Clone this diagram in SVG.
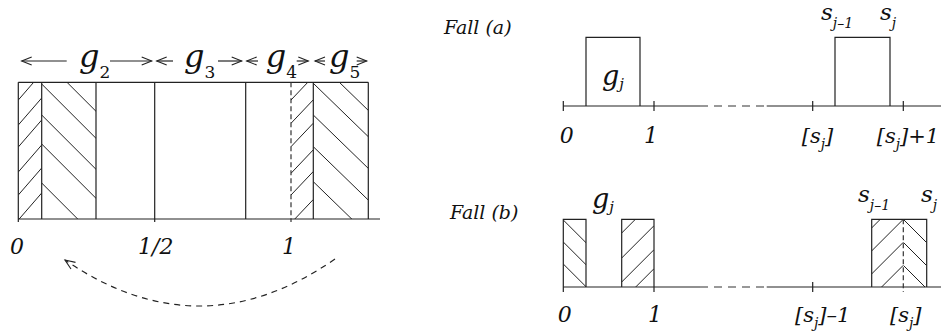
<svg xmlns="http://www.w3.org/2000/svg" width="941" height="333" viewBox="0 0 941 333">
<style>
  .ln{stroke:#222;stroke-width:1.2;fill:none}
  .ht{stroke:#222;stroke-width:1;fill:none}
  .dsh{stroke:#333;stroke-width:1.2;fill:none;stroke-dasharray:5 3}
  .axd{stroke:#333;stroke-width:1.2;fill:none;stroke-dasharray:8 6}
  text{font-family:'DejaVu Serif','Liberation Serif',serif;font-style:italic;fill:#111}
  .r{font-style:normal}
</style>
<defs>
  <marker id="open" markerWidth="12" markerHeight="10" refX="10" refY="4" orient="auto-start-reverse" markerUnits="userSpaceOnUse" overflow="visible">
    <path d="M0,0 L10,4 L0,8" fill="none" stroke="#222" stroke-width="1.1"/>
  </marker>
  <clipPath id="cA"><rect x="18.3" y="82.3" width="23.4" height="136.7"/></clipPath>
  <clipPath id="cB"><rect x="41.7" y="82.3" width="54.3" height="136.7"/></clipPath>
  <clipPath id="cC"><rect x="291" y="82.3" width="22.3" height="136.7"/></clipPath>
  <clipPath id="cD"><rect x="313.3" y="82.3" width="55" height="136.7"/></clipPath>
  <clipPath id="cb1"><rect x="563.3" y="219.3" width="22.7" height="67.7"/></clipPath>
  <clipPath id="cb2"><rect x="621.7" y="219.3" width="32.3" height="67.7"/></clipPath>
  <clipPath id="cb3l"><rect x="871.7" y="219.3" width="31.6" height="67.7"/></clipPath>
  <clipPath id="cb3r"><rect x="903.3" y="219.3" width="23.4" height="67.7"/></clipPath>
</defs>

<!-- Left figure -->
<g id="left-interval">
  <path class="ln" d="M18.3,82.3H368.3 M18.3,82.3V222 M18.3,219H380 M41.7,82.3V219 M96,82.3V219 M154.7,82.3V222 M245.7,82.3V219 M313.3,82.3V219 M368.3,82.3V219"/>
  <path class="dsh" d="M291,82.3V222"/>
  <path class="ht" clip-path="url(#cA)" d="M18.3,100L41.7,73 M18.3,125L41.7,98 M18.3,147L41.7,120 M18.3,172L41.7,145 M18.3,195L41.7,168 M18.3,220L41.7,193"/>
  <path class="ht" clip-path="url(#cB)" d="M41.7,57L96,111.3 M41.7,84L96,138.3 M41.7,115L96,169.3 M41.7,144L96,198.3 M41.7,183L96,237.3"/>
  <path class="ht" clip-path="url(#cC)" d="M291,100L313.3,76.5 M291,123.3L313.3,99.8 M291,146.7L313.3,123.2 M291,173.3L313.3,149.8 M291,195L313.3,171.5 M291,223L313.3,199.5"/>
  <path class="ht" clip-path="url(#cD)" d="M313.3,57L368.3,110.4 M313.3,83.3L368.3,136.7 M313.3,115L368.3,168.4 M313.3,146.7L368.3,200.1 M313.3,181.7L368.3,235.1"/>
</g>
<g id="left-labels">
  <text font-size="32" x="79" y="67">g<tspan class="r" font-size="17" dy="11">2</tspan></text>
  <text font-size="32" x="184" y="67">g<tspan class="r" font-size="17" dy="11">3</tspan></text>
  <text font-size="32" x="265.7" y="67">g<tspan class="r" font-size="17" dy="11">4</tspan></text>
  <text font-size="32" x="329" y="67">g<tspan class="r" font-size="17" dy="11">5</tspan></text>
  <text font-size="22" x="17" y="254" text-anchor="middle">0</text>
  <text font-size="22" x="155.8" y="254" text-anchor="middle">1/2</text>
  <text font-size="22" x="289" y="254" text-anchor="middle">1</text>
</g>

<!-- Fall (a) -->
<g id="fall-a">
  <text font-size="19" x="444" y="34">Fall (a)</text>
  <path class="ln" d="M563.3,106H700 M766.7,106H941 M563.3,101V111 M654,101V111 M812.7,101V111 M903.3,101V111"/>
  <path class="axd" d="M700,106H766.7"/>
  <path class="ln" d="M586,106V37.3H640V106 M835,106V37.3H890V106"/>
  <text font-size="27" x="602" y="85">g<tspan font-size="15" dy="4">j</tspan></text>
  <text font-size="23" x="821" y="20">s<tspan font-size="14" dy="8">j–1</tspan></text>
  <text font-size="23" x="880" y="20">s<tspan font-size="14" dy="8">j</tspan></text>
  <text font-size="22" x="566.7" y="143" text-anchor="middle">0</text>
  <text font-size="22" x="651" y="143" text-anchor="middle">1</text>
  <text font-size="21" x="801.7" y="143">[s<tspan font-size="14" dy="6">j</tspan><tspan dy="-6">]</tspan></text>
  <text font-size="21" x="876.7" y="143">[s<tspan font-size="14" dy="6">j</tspan><tspan dy="-6">]+1</tspan></text>
</g>

<!-- Fall (b) -->
<g id="fall-b">
  <text font-size="19" x="450" y="219">Fall (b)</text>
  <path class="ln" d="M563.3,287H700 M766.7,287H941 M563.3,287V292 M654,287V292 M812.7,282V292"/>
  <path class="axd" d="M700,287H766.7"/>
  <path class="ln" d="M563.3,287V219.3H586V287 M621.7,287V219.3H654V287 M871.7,287V219.3H926.7V287"/>
  <path class="dsh" d="M903.3,219.3V292"/>
  <path class="ht" clip-path="url(#cb1)" d="M563.3,220L586,242.7 M563.3,242L586,264.7 M563.3,264L586,286.7"/>
  <path class="ht" clip-path="url(#cb2)" d="M621.7,233L654,200.7 M621.7,258L654,225.7 M621.7,282L654,249.7 M621.7,301L654,268.7"/>
  <path class="ht" clip-path="url(#cb3l)" d="M903.3,196.3L871.7,227.9 M903.3,219.3L871.7,250.9 M903.3,242.3L871.7,273.9 M903.3,265.3L871.7,296.9"/>
  <path class="ht" clip-path="url(#cb3r)" d="M903.3,219.3L926.7,242.7 M903.3,242.3L926.7,265.7 M903.3,265.3L926.7,288.7"/>
  <text font-size="27" x="592" y="208">g<tspan font-size="15" dy="4">j</tspan></text>
  <text font-size="23" x="858" y="202">s<tspan font-size="14" dy="8">j–1</tspan></text>
  <text font-size="23" x="921" y="202">s<tspan font-size="14" dy="8">j</tspan></text>
  <text font-size="22" x="564.7" y="322" text-anchor="middle">0</text>
  <text font-size="22" x="655" y="322" text-anchor="middle">1</text>
  <text font-size="21" x="795" y="322">[s<tspan font-size="14" dy="6">j</tspan><tspan dy="-6">]–1</tspan></text>
  <text font-size="21" x="890" y="322">[s<tspan font-size="14" dy="6">j</tspan><tspan dy="-6">]</tspan></text>
</g>

<!-- Connectors -->
<g id="connectors">
  <path class="ln" marker-start="url(#open)" d="M21.7,61H66.7"/>
  <path class="ln" marker-end="url(#open)" d="M110,61H151.7"/>
  <path class="ln" marker-start="url(#open)" d="M156.7,61H173"/>
  <path class="ln" marker-end="url(#open)" d="M218,61H241.7"/>
  <path class="ln" marker-start="url(#open)" d="M246.7,61H258"/>
  <path class="ln" marker-end="url(#open)" d="M296.7,61H308.3"/>
  <path class="ln" marker-start="url(#open)" d="M315,61H325"/>
  <path class="ln" marker-end="url(#open)" d="M356.7,61H366.7"/>
  <path class="ln" stroke-dasharray="6 5" marker-end="url(#open)" d="M335,259 Q200,352.5 65,260"/>
</g>
</svg>
